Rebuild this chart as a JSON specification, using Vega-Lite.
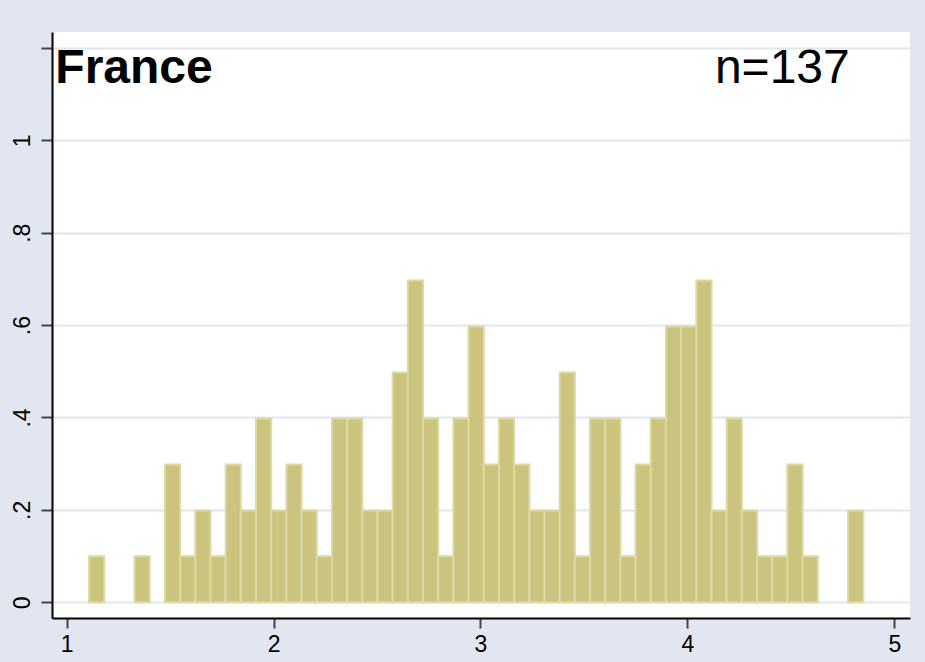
{
  "$schema": "https://vega.github.io/schema/vega-lite/v6.json",
  "width": 858,
  "height": 586,
  "autosize": {"type": "none"},
  "padding": {"left": 52, "top": 32, "right": 15, "bottom": 44},
  "background": "#E1E6F0",
  "config": {
    "view": {"stroke": null, "fill": "#FFFFFF"},
    "font": "Liberation Sans"
  },
  "data": {
    "values": [
      {"x0": 1.1080, "x1": 1.1814, "count": 1, "density": 0.0995},
      {"x0": 1.1814, "x1": 1.2548, "count": 0, "density": 0},
      {"x0": 1.2548, "x1": 1.3281, "count": 0, "density": 0},
      {"x0": 1.3281, "x1": 1.4015, "count": 1, "density": 0.0995},
      {"x0": 1.4015, "x1": 1.4749, "count": 0, "density": 0},
      {"x0": 1.4749, "x1": 1.5483, "count": 3, "density": 0.2984},
      {"x0": 1.5483, "x1": 1.6217, "count": 1, "density": 0.0995},
      {"x0": 1.6217, "x1": 1.6950, "count": 2, "density": 0.1989},
      {"x0": 1.6950, "x1": 1.7684, "count": 1, "density": 0.0995},
      {"x0": 1.7684, "x1": 1.8418, "count": 3, "density": 0.2984},
      {"x0": 1.8418, "x1": 1.9152, "count": 2, "density": 0.1989},
      {"x0": 1.9152, "x1": 1.9886, "count": 4, "density": 0.3979},
      {"x0": 1.9886, "x1": 2.0619, "count": 2, "density": 0.1989},
      {"x0": 2.0619, "x1": 2.1353, "count": 3, "density": 0.2984},
      {"x0": 2.1353, "x1": 2.2087, "count": 2, "density": 0.1989},
      {"x0": 2.2087, "x1": 2.2821, "count": 1, "density": 0.0995},
      {"x0": 2.2821, "x1": 2.3555, "count": 4, "density": 0.3979},
      {"x0": 2.3555, "x1": 2.4288, "count": 4, "density": 0.3979},
      {"x0": 2.4288, "x1": 2.5022, "count": 2, "density": 0.1989},
      {"x0": 2.5022, "x1": 2.5756, "count": 2, "density": 0.1989},
      {"x0": 2.5756, "x1": 2.6490, "count": 5, "density": 0.4974},
      {"x0": 2.6490, "x1": 2.7224, "count": 7, "density": 0.6963},
      {"x0": 2.7224, "x1": 2.7957, "count": 4, "density": 0.3979},
      {"x0": 2.7957, "x1": 2.8691, "count": 1, "density": 0.0995},
      {"x0": 2.8691, "x1": 2.9425, "count": 4, "density": 0.3979},
      {"x0": 2.9425, "x1": 3.0159, "count": 6, "density": 0.5968},
      {"x0": 3.0159, "x1": 3.0893, "count": 3, "density": 0.2984},
      {"x0": 3.0893, "x1": 3.1626, "count": 4, "density": 0.3979},
      {"x0": 3.1626, "x1": 3.2360, "count": 3, "density": 0.2984},
      {"x0": 3.2360, "x1": 3.3094, "count": 2, "density": 0.1989},
      {"x0": 3.3094, "x1": 3.3828, "count": 2, "density": 0.1989},
      {"x0": 3.3828, "x1": 3.4562, "count": 5, "density": 0.4974},
      {"x0": 3.4562, "x1": 3.5295, "count": 1, "density": 0.0995},
      {"x0": 3.5295, "x1": 3.6029, "count": 4, "density": 0.3979},
      {"x0": 3.6029, "x1": 3.6763, "count": 4, "density": 0.3979},
      {"x0": 3.6763, "x1": 3.7497, "count": 1, "density": 0.0995},
      {"x0": 3.7497, "x1": 3.8231, "count": 3, "density": 0.2984},
      {"x0": 3.8231, "x1": 3.8964, "count": 4, "density": 0.3979},
      {"x0": 3.8964, "x1": 3.9698, "count": 6, "density": 0.5968},
      {"x0": 3.9698, "x1": 4.0432, "count": 6, "density": 0.5968},
      {"x0": 4.0432, "x1": 4.1166, "count": 7, "density": 0.6963},
      {"x0": 4.1166, "x1": 4.1900, "count": 2, "density": 0.1989},
      {"x0": 4.1900, "x1": 4.2633, "count": 4, "density": 0.3979},
      {"x0": 4.2633, "x1": 4.3367, "count": 2, "density": 0.1989},
      {"x0": 4.3367, "x1": 4.4101, "count": 1, "density": 0.0995},
      {"x0": 4.4101, "x1": 4.4835, "count": 1, "density": 0.0995},
      {"x0": 4.4835, "x1": 4.5569, "count": 3, "density": 0.2984},
      {"x0": 4.5569, "x1": 4.6302, "count": 1, "density": 0.0995},
      {"x0": 4.6302, "x1": 4.7036, "count": 0, "density": 0},
      {"x0": 4.7036, "x1": 4.7770, "count": 0, "density": 0},
      {"x0": 4.7770, "x1": 4.8504, "count": 2, "density": 0.1989}
    ]
  },
  "layer": [
    {
      "transform": [{"filter": "datum.count > 0"}],
      "mark": {"type": "rect", "fill": "#CBC47F", "stroke": "#DDD9A3", "strokeWidth": 2},
      "encoding": {
        "x": {
          "field": "x0", "type": "quantitative",
          "scale": {"domain": [0.929, 5.0759], "nice": false, "zero": false},
          "axis": {
            "title": null,
            "values": [1, 2, 3, 4, 5],
            "format": "d",
            "grid": false,
            "domainColor": "#000000",
            "domainWidth": 2,
            "tickColor": "#444444",
            "tickWidth": 2,
            "tickSize": 10,
            "labelFontSize": 23,
            "labelColor": "#000000",
            "labelPadding": 5,
            "labelFont": "Liberation Sans"
          }
        },
        "x2": {"field": "x1"},
        "y": {
          "field": "density", "type": "quantitative",
          "scale": {"domain": [-0.034, 1.2344], "nice": false, "zero": false},
          "axis": {
            "title": null,
            "values": [0, 0.2, 0.4, 0.6, 0.8, 1, 1.2],
            "labelExpr": "datum.value > 1.1 ? '' : datum.value == 0 ? '0' : datum.value == 1 ? '1' : '.' + round(datum.value * 10)",
            "grid": true,
            "gridColor": "#E1E6F0",
            "gridWidth": 2,
            "domainColor": "#000000",
            "domainWidth": 2,
            "tickColor": "#444444",
            "tickWidth": 2,
            "tickSize": 11,
            "labelAngle": 270,
            "labelAlign": "center",
            "labelBaseline": "bottom",
            "labelFontSize": 23,
            "labelColor": "#000000",
            "labelPadding": 7,
            "labelFont": "Liberation Sans"
          }
        },
        "y2": {"datum": 0}
      }
    },
    {
      "data": {"values": [{"label": "France"}]},
      "mark": {"type": "text", "align": "left", "baseline": "alphabetic", "font": "Liberation Sans", "fontWeight": "bold", "fontSize": 48, "color": "#000000"},
      "encoding": {
        "x": {"datum": 0.945, "type": "quantitative"},
        "y": {"datum": 1.124, "type": "quantitative"},
        "text": {"field": "label"}
      }
    },
    {
      "data": {"values": [{"label": "n=137"}]},
      "mark": {"type": "text", "align": "left", "baseline": "alphabetic", "font": "Liberation Sans", "fontSize": 48, "color": "#000000"},
      "encoding": {
        "x": {"datum": 4.133, "type": "quantitative"},
        "y": {"datum": 1.124, "type": "quantitative"},
        "text": {"field": "label"}
      }
    }
  ]
}
